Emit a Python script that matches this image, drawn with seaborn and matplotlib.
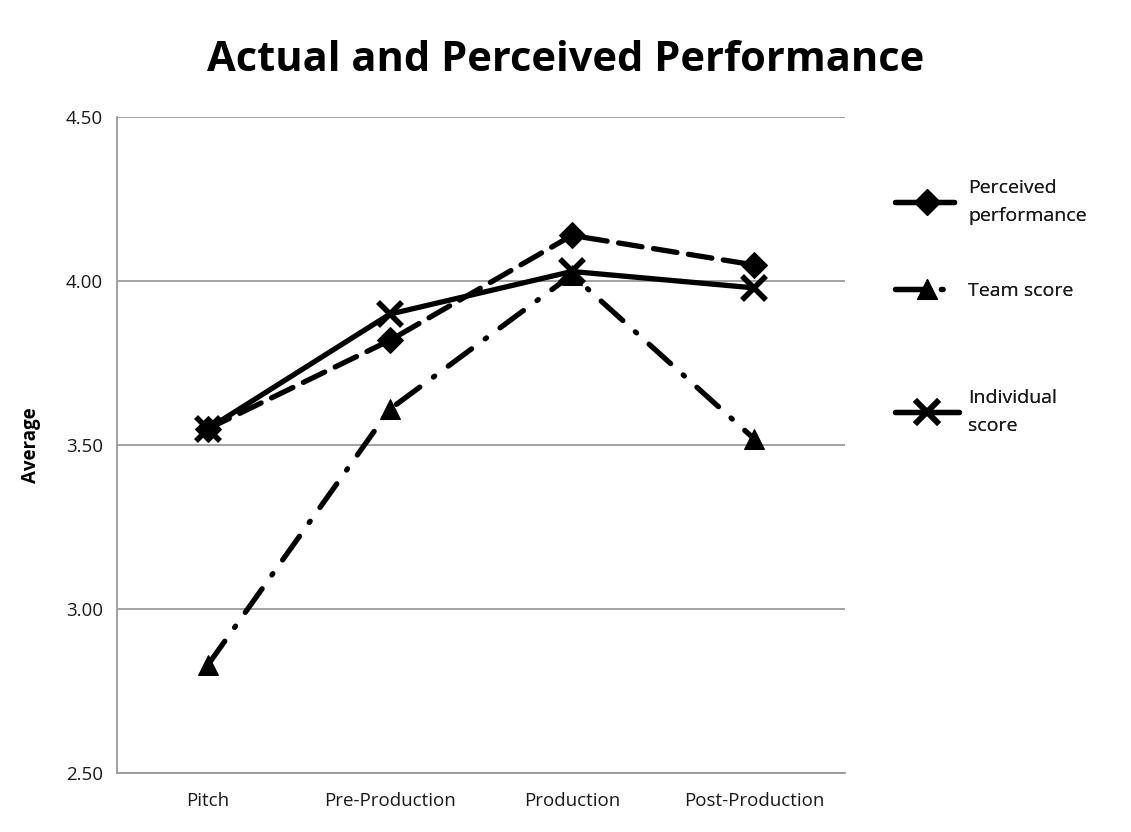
import matplotlib
matplotlib.use('Agg')
import matplotlib.pyplot as plt
import seaborn as sns
import pandas as pd

# Data
STAGES = ['Pitch', 'Pre-Production', 'Production', 'Post-Production']
PERCEIVED = [3.55, 3.82, 4.14, 4.05]
TEAM = [2.83, 3.61, 4.02, 3.52]
INDIVIDUAL = [3.55, 3.90, 4.03, 3.98]
Y_TICKS = [2.5, 3.0, 3.5, 4.0, 4.5]

sns.set_theme(style='white')
plt.rcParams['font.family'] = ['Open Sans', 'DejaVu Sans']

fig = plt.figure(figsize=(11.31, 8.32), dpi=100)
ax = fig.add_axes([0.1034, 0.0709, 0.6437, 0.788])

series = [
    ('Perceived\nperformance', PERCEIVED, dict(marker='D', markersize=13, dashes=(4.5, 2.2))),
    ('Team score', TEAM, dict(marker='^', markersize=14, dashes=(5.5, 3.2, 0.3, 3.2))),
    ('Individual\nscore', INDIVIDUAL, dict(marker='x', markersize=17, markeredgewidth=4)),
]

for label, vals, kw in series:
    df = pd.DataFrame({'stage': STAGES, 'value': vals})
    line_kw = dict(kw)
    dashes = line_kw.pop('dashes', None)
    sns.lineplot(data=df, x='stage', y='value', ax=ax, color='black', lw=3.8,
                 label=label, sort=False, markeredgecolor='black',
                 solid_capstyle='round', dash_capstyle='round', **line_kw)
    if dashes is not None:
        ax.lines[-1].set_dashes(dashes)

ax.set_xlim(-0.5, 3.5)
ax.set_ylim(2.5, 4.5)
ax.set_yticks(Y_TICKS)
ax.set_yticklabels([f'{v:.2f}' for v in Y_TICKS])
ax.yaxis.grid(True, color='#9a9a9a', lw=1.3)
ax.set_axisbelow(True)
for s in ['top', 'right']:
    ax.spines[s].set_visible(False)
for s in ['left', 'bottom']:
    ax.spines[s].set_color('#9a9a9a')
    ax.spines[s].set_linewidth(1.3)
ax.tick_params(axis='both', labelsize=13.5, colors='#1a1a1a', length=0, pad=10)
ax.tick_params(axis='x', pad=14)
ax.set_xlabel('')
ax.set_ylabel('Average', fontsize=13.5, fontweight='bold', color='black', labelpad=18)

fig.suptitle('Actual and Perceived Performance', fontsize=30, fontweight='bold',
             color='black', y=0.952)

# one legend per entry, placed at the reference's uneven vertical spacing
handles, labels = ax.get_legend_handles_labels()
ax.get_legend().remove()
legend_y = [0.757, 0.650, 0.505]
for h, lab, y in zip(handles, labels, legend_y):
    leg = fig.legend([h], [lab], loc='center left', bbox_to_anchor=(0.783, y),
                     frameon=False, fontsize=14, handlelength=3.3,
                     handletextpad=0.45, borderpad=0)
    for t in leg.get_texts():
        t.set_linespacing(1.75)
        t.set_color('#1a1a1a')
    fig.add_artist(leg)

fig.savefig('out.png', dpi=100)
